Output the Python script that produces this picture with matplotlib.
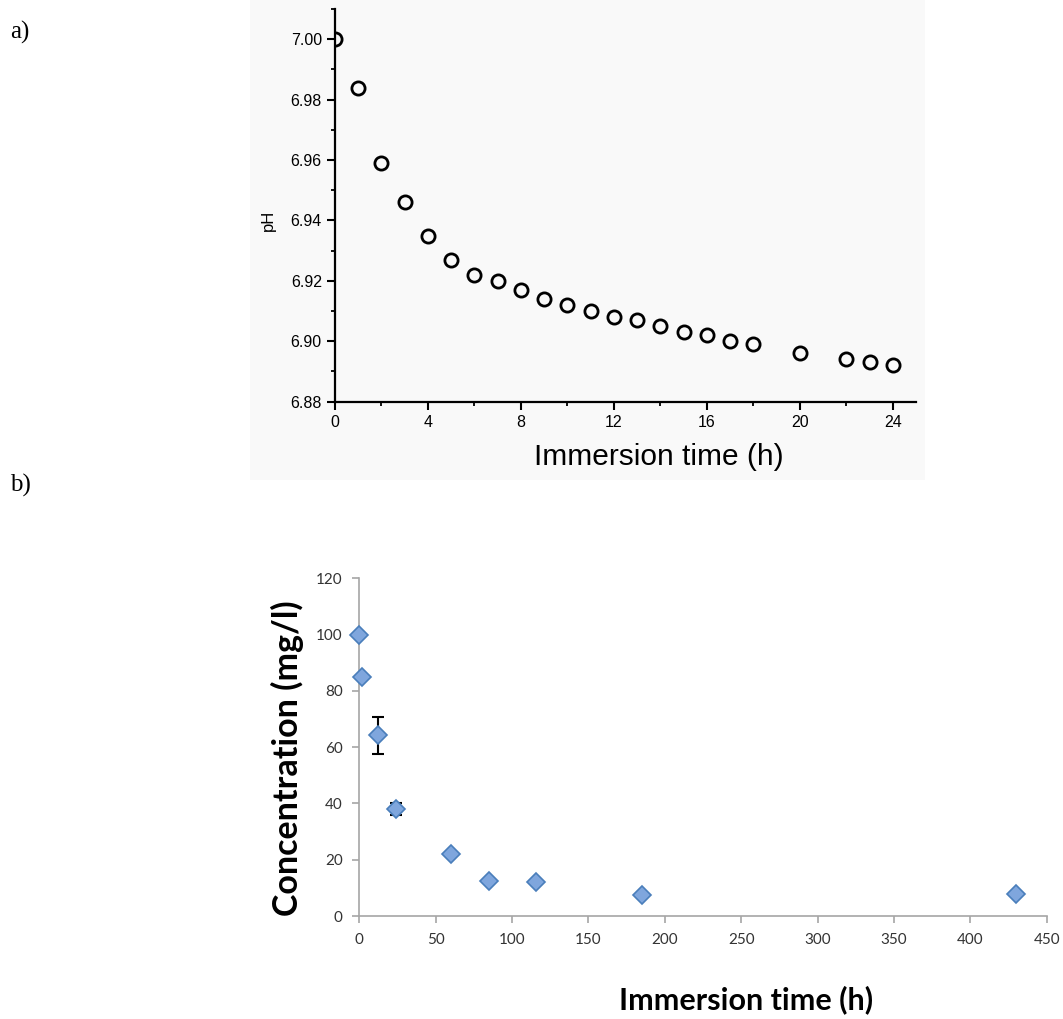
import matplotlib
matplotlib.use("Agg")
import matplotlib.pyplot as plt
from matplotlib.patches import Rectangle
from matplotlib.ticker import MultipleLocator

# (a) pH of the immersion medium over the first day
ph_time = [0, 1, 2, 3, 4, 5, 6, 7, 8, 9, 10, 11, 12, 13, 14, 15, 16, 17, 18, 20, 22, 23, 24]
ph_value = [7.000, 6.984, 6.959, 6.946, 6.935, 6.927, 6.922, 6.920, 6.917, 6.914,
            6.912, 6.910, 6.908, 6.907, 6.905, 6.903, 6.902, 6.900, 6.899, 6.896,
            6.894, 6.893, 6.892]

# (b) concentration in solution over the whole immersion
conc_time = [0, 2, 12, 24, 60, 85, 116, 185, 430]
conc_value = [100, 85, 64.2, 38.0, 22.1, 12.6, 12.0, 7.3, 7.7]
conc_err = [0, 0, 6.5, 2.1, 0, 0, 0, 0, 0]

W, H = 1063, 1019
fig = plt.figure(figsize=(W / 100, H / 100), dpi=100)
fig.patch.set_facecolor("white")

def fx(px):
    return px / W

def fy(py):
    return 1 - py / H

# faint backdrop of panel (a)
fig.patches.append(Rectangle((fx(250), fy(480)), fx(925) - fx(250), fy(0) - fy(480),
                             transform=fig.transFigure, facecolor="#f9f9f9",
                             edgecolor="none", zorder=-10))

serif = ["Liberation Serif", "DejaVu Serif"]
fig.text(fx(10), fy(32), "a)", fontsize=18, family=serif, va="center", ha="left")
fig.text(fx(10), fy(485), "b)", fontsize=18, family=serif, va="center", ha="left")

# ---- panel (a)
arial = ["Liberation Sans", "DejaVu Sans"]
axa = fig.add_axes([fx(335), fy(401.7), fx(916) - fx(335), fy(9) - fy(401.7)])
axa.set_facecolor("none")
axa.plot(ph_time, ph_value, linestyle="none", marker="o", markersize=9.5,
         markerfacecolor="none", markeredgecolor="black", markeredgewidth=2.0,
         zorder=3)
axa.set_xlim(0, 25)
axa.set_ylim(6.88, 7.01)
axa.xaxis.set_minor_locator(MultipleLocator(2))
axa.yaxis.set_minor_locator(MultipleLocator(0.01))
axa.set_xticks([0, 4, 8, 12, 16, 20, 24])
yt = [6.88, 6.90, 6.92, 6.94, 6.96, 6.98, 7.00]
axa.set_yticks(yt)
axa.set_yticklabels([f"{v:.2f}" for v in yt])
for s in ["top", "right"]:
    axa.spines[s].set_visible(False)
for s in ["left", "bottom"]:
    axa.spines[s].set_linewidth(1.6)
axa.tick_params(which="major", direction="out", length=6, width=1.5, pad=3.5,
                labelsize=11.5, colors="black")
axa.tick_params(which="minor", direction="out", length=3, width=1.3)
for lab in axa.get_xticklabels() + axa.get_yticklabels():
    lab.set_family(arial)
fig.text(fx(268), fy(220), "pH", rotation=90, fontsize=12, family=arial,
         ha="center", va="center")
fig.text(fx(659), fy(457), "Immersion time (h)", fontsize=21.5, family=arial,
         ha="center", va="center")

# ---- panel (b)
narrow = ["Liberation Sans Narrow", "Lato", "DejaVu Sans"]
axis_grey = "#a6a6a6"
axb = fig.add_axes([fx(359.3), fy(916), fx(1046.7) - fx(359.3), fy(578.3) - fy(916)])
axb.set_facecolor("none")
axb.errorbar(conc_time, conc_value, yerr=conc_err, fmt="none", ecolor="black",
             elinewidth=1.5, capsize=4, capthick=1.5, zorder=2)
axb.plot(conc_time, conc_value, linestyle="none", marker="D", markersize=9,
         markerfacecolor="#7fa6dd", markeredgecolor="#4a7ebb", markeredgewidth=1.2,
         clip_on=False, zorder=3)
axb.set_xlim(0, 450)
axb.set_ylim(0, 120)
axb.set_xticks(range(0, 451, 50))
axb.set_yticks(range(0, 121, 20))
for s in ["top", "right"]:
    axb.spines[s].set_visible(False)
for s in ["left", "bottom"]:
    axb.spines[s].set_color(axis_grey)
    axb.spines[s].set_linewidth(1.2)
axb.tick_params(direction="out", length=5, width=1.2, color=axis_grey,
                labelcolor="#333333", labelsize=11, pad=7)
for lab in axb.get_xticklabels() + axb.get_yticklabels():
    lab.set_family(narrow)
fig.text(fx(287), fy(758), "Concentration (mg/l)", rotation=90, fontsize=24.5,
         fontweight="bold", family=["Lato", "DejaVu Sans"], ha="center", va="center")
fig.text(fx(746), fy(1000), "Immersion time (h)", fontsize=22, fontweight="bold",
         family=["Lato", "DejaVu Sans"], ha="center", va="center")

fig.savefig("out.png", dpi=100)
